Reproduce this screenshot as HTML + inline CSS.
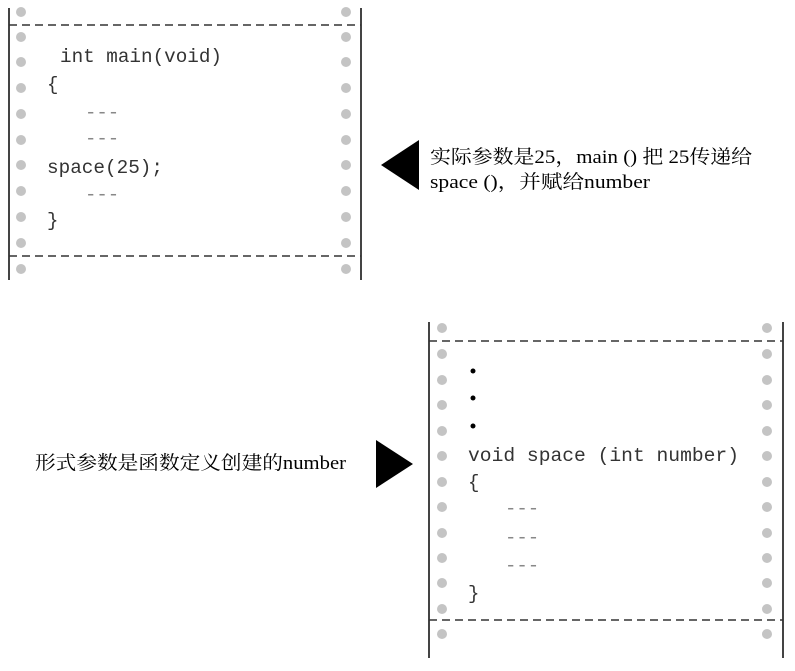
<!DOCTYPE html>
<html><head><meta charset="utf-8"><style>
body{margin:0;width:795px;height:671px;background:#fff;overflow:hidden;position:relative}
svg{position:absolute;left:0;top:0}
.m{font-family:"Liberation Mono",monospace;font-size:19px;fill:#333}
.d{font-family:"Liberation Mono",monospace;font-size:19px;fill:#888}
.c{font-family:"Liberation Serif","Noto Serif CJK SC",serif;font-size:19px;fill:#000}
</style></head><body>
<svg width="795" height="671" viewBox="0 0 795 671">
<g stroke="#444" stroke-width="2">
<line x1="9" y1="8" x2="9" y2="280"/><line x1="361" y1="8" x2="361" y2="280"/>
<line x1="429" y1="322" x2="429" y2="658"/><line x1="783" y1="322" x2="783" y2="658"/>
</g>
<g stroke="#333" stroke-width="1.5" stroke-dasharray="8,5">
<line x1="9" y1="25" x2="361" y2="25"/><line x1="9" y1="256" x2="361" y2="256"/>
<line x1="429" y1="341" x2="783" y2="341"/><line x1="429" y1="620" x2="783" y2="620"/>
</g>
<g fill="#c4c4c4">
<circle cx="21" cy="12" r="5"/><circle cx="346" cy="12" r="5"/>
<circle cx="21" cy="37" r="5"/><circle cx="346" cy="37" r="5"/>
<circle cx="21" cy="62" r="5"/><circle cx="346" cy="62" r="5"/>
<circle cx="21" cy="88" r="5"/><circle cx="346" cy="88" r="5"/>
<circle cx="21" cy="114" r="5"/><circle cx="346" cy="114" r="5"/>
<circle cx="21" cy="140" r="5"/><circle cx="346" cy="140" r="5"/>
<circle cx="21" cy="165" r="5"/><circle cx="346" cy="165" r="5"/>
<circle cx="21" cy="191" r="5"/><circle cx="346" cy="191" r="5"/>
<circle cx="21" cy="217" r="5"/><circle cx="346" cy="217" r="5"/>
<circle cx="21" cy="243" r="5"/><circle cx="346" cy="243" r="5"/>
<circle cx="21" cy="269" r="5"/><circle cx="346" cy="269" r="5"/>
<circle cx="442" cy="328" r="5"/><circle cx="767" cy="328" r="5"/>
<circle cx="442" cy="354" r="5"/><circle cx="767" cy="354" r="5"/>
<circle cx="442" cy="380" r="5"/><circle cx="767" cy="380" r="5"/>
<circle cx="442" cy="405" r="5"/><circle cx="767" cy="405" r="5"/>
<circle cx="442" cy="431" r="5"/><circle cx="767" cy="431" r="5"/>
<circle cx="442" cy="456" r="5"/><circle cx="767" cy="456" r="5"/>
<circle cx="442" cy="482" r="5"/><circle cx="767" cy="482" r="5"/>
<circle cx="442" cy="507" r="5"/><circle cx="767" cy="507" r="5"/>
<circle cx="442" cy="533" r="5"/><circle cx="767" cy="533" r="5"/>
<circle cx="442" cy="558" r="5"/><circle cx="767" cy="558" r="5"/>
<circle cx="442" cy="583" r="5"/><circle cx="767" cy="583" r="5"/>
<circle cx="442" cy="609" r="5"/><circle cx="767" cy="609" r="5"/>
<circle cx="442" cy="634" r="5"/><circle cx="767" cy="634" r="5"/>
</g>
<text class="m" x="60" y="62" textLength="162" lengthAdjust="spacingAndGlyphs">int main(void)</text>
<text class="m" x="47" y="90">{</text>
<text class="d" x="85" y="118">---</text>
<text class="d" x="85" y="144">---</text>
<text class="m" x="47" y="173" textLength="116" lengthAdjust="spacingAndGlyphs">space(25);</text>
<text class="d" x="85" y="200">---</text>
<text class="m" x="47" y="226">}</text>
<g fill="#000"><circle cx="473" cy="371" r="2.5"/><circle cx="473" cy="398" r="2.5"/><circle cx="473" cy="426" r="2.5"/></g>
<text class="m" x="468" y="461" textLength="271" lengthAdjust="spacingAndGlyphs">void space (int number)</text>
<text class="m" x="468" y="488">{</text>
<text class="d" x="505" y="514">---</text>
<text class="d" x="505" y="543">---</text>
<text class="d" x="505" y="571">---</text>
<text class="m" x="468" y="599">}</text>
<polygon points="381,165 419,140 419,190" fill="#000"/>
<polygon points="376,440 376,488 413,464" fill="#000"/>
<text class="c" x="430" y="163" textLength="322" lengthAdjust="spacingAndGlyphs">实际参数是25，main () 把 25传递给</text>
<text class="c" x="430" y="188" textLength="220" lengthAdjust="spacingAndGlyphs">space ()，并赋给number</text>
<text class="c" x="35" y="469" textLength="311" lengthAdjust="spacingAndGlyphs">形式参数是函数定义创建的number</text>
</svg>
</body></html>
